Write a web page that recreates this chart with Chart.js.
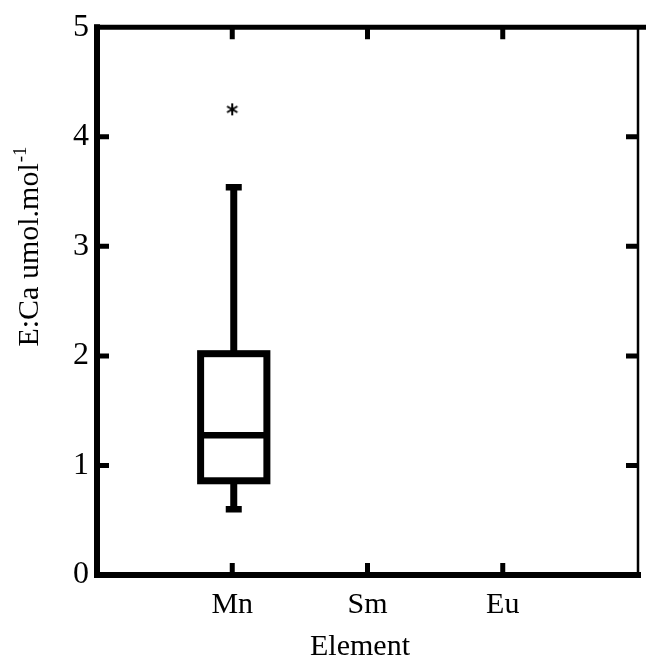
<!DOCTYPE html>
<html>
<head>
<meta charset="utf-8">
<script src="https://cdn.jsdelivr.net/npm/chart.js@4.4.1/dist/chart.umd.min.js"></script>
<style>
  html, body { margin: 0; padding: 0; background: #fff; }
  #wrap { width: 646px; height: 664px; position: relative; }
</style>
</head>
<body>
<div id="wrap"><canvas id="box-chart"></canvas></div>
<script>
//Box plot data, one entry per element
const elements = ["Mn", "Sm", "Eu"];
const positions = [1, 2, 3];
const whiskerLow = [0.6, null, null];
const q1 = [0.86, null, null];
const median = [1.275, null, null];
const q3 = [2.02, null, null];
const whiskerHigh = [3.54, null, null];
const outliers = [[4.25], [], []];
const yTicks = [0, 1, 2, 3, 4, 5];

const serif = "'Liberation Serif', 'Times New Roman', serif";
const ink = '#000';

//Six-armed asterisk used for outliers
const makeAsterisk = (size) => {
  const c = document.createElement('canvas');
  c.width = size;
  c.height = size;
  const g = c.getContext('2d');
  const r = size / 2 - 1;
  g.strokeStyle = ink;
  g.lineWidth = 2;
  g.translate(size / 2, size / 2);
  [90, 30, 150].forEach(deg => {
    const a = deg * Math.PI / 180;
    g.beginPath();
    g.moveTo(-Math.cos(a) * r, -Math.sin(a) * r);
    g.lineTo(Math.cos(a) * r, Math.sin(a) * r);
    g.stroke();
  });
  return c;
};

const outlierPoints = [];
outliers.forEach((list, i) => {
  list.forEach(v => outlierPoints.push({ x: positions[i], y: v }));
});

//Boxes, whiskers and median lines
const boxPlot = {
  id: 'boxPlot',
  beforeDatasetsDraw(chart) {
    const { ctx, scales: { x, y } } = chart;
    const halfBox = (x.getPixelForValue(1) - x.getPixelForValue(0)) * 0.245;
    const halfCap = 8;
    ctx.save();
    ctx.strokeStyle = ink;
    ctx.lineWidth = 7;
    ctx.lineCap = 'butt';
    positions.forEach((p, i) => {
      if (q1[i] === null) return;
      const cx = x.getPixelForValue(p) + 1.5;
      const yLo = y.getPixelForValue(whiskerLow[i]);
      const yQ1 = y.getPixelForValue(q1[i]);
      const yMed = y.getPixelForValue(median[i]);
      const yQ3 = y.getPixelForValue(q3[i]);
      const yHi = y.getPixelForValue(whiskerHigh[i]);

      ctx.beginPath();
      ctx.moveTo(cx, yQ3);
      ctx.lineTo(cx, yHi);
      ctx.moveTo(cx, yQ1);
      ctx.lineTo(cx, yLo);
      ctx.stroke();

      ctx.lineWidth = 6.5;
      ctx.beginPath();
      ctx.moveTo(cx - halfCap, yHi);
      ctx.lineTo(cx + halfCap, yHi);
      ctx.moveTo(cx - halfCap, yLo);
      ctx.lineTo(cx + halfCap, yLo);
      ctx.stroke();

      ctx.lineWidth = 7;
      ctx.lineJoin = 'miter';
      ctx.fillStyle = '#fff';
      ctx.fillRect(cx - halfBox, yQ3, halfBox * 2, yQ1 - yQ3);
      ctx.strokeRect(cx - halfBox, yQ3, halfBox * 2, yQ1 - yQ3);

      ctx.lineWidth = 6.5;
      ctx.beginPath();
      ctx.moveTo(cx - halfBox, yMed);
      ctx.lineTo(cx + halfBox, yMed);
      ctx.stroke();
    });
    ctx.restore();
  }
};

//Heavy frame with inward ticks, plus axis titles
const frame = {
  id: 'frame',
  afterDraw(chart) {
    const { ctx, chartArea: { left, right, top, bottom }, scales: { x, y } } = chart;
    const tick = 12;
    ctx.save();
    ctx.strokeStyle = ink;
    ctx.lineCap = 'square';

    ctx.lineWidth = 6;
    ctx.beginPath();
    ctx.moveTo(left, top);
    ctx.lineTo(left, bottom);
    ctx.lineTo(right, bottom);
    ctx.stroke();

    ctx.lineWidth = 5;
    ctx.beginPath();
    ctx.moveTo(left, top);
    ctx.lineTo(chart.width, top);
    ctx.stroke();

    ctx.lineWidth = 2.5;
    ctx.lineCap = 'butt';
    ctx.beginPath();
    ctx.moveTo(right, top);
    ctx.lineTo(right, bottom + 3);
    ctx.stroke();

    ctx.lineWidth = 5;
    ctx.beginPath();
    y.ticks.forEach(t => {
      if (t.value <= 0 || t.value >= 5) return;
      const py = y.getPixelForValue(t.value);
      ctx.moveTo(left, py);
      ctx.lineTo(left + tick, py);
      ctx.moveTo(right, py);
      ctx.lineTo(right - tick, py);
    });
    x.ticks.forEach(t => {
      const px = x.getPixelForValue(t.value);
      ctx.moveTo(px, bottom);
      ctx.lineTo(px, bottom - tick);
      ctx.moveTo(px, top);
      ctx.lineTo(px, top + tick);
    });
    ctx.stroke();

    ctx.fillStyle = ink;
    ctx.font = '30px ' + serif;
    ctx.textAlign = 'center';
    ctx.textBaseline = 'alphabetic';
    ctx.fillText('Element', 360, 655);

    //Rotated y title with superscript exponent
    const main = 'E:Ca umol.mol';
    const sup = '-1';
    const w1 = ctx.measureText(main).width;
    ctx.font = '19px ' + serif;
    const w2 = ctx.measureText(sup).width;
    ctx.translate(38, 247);
    ctx.rotate(-Math.PI / 2);
    ctx.textAlign = 'left';
    const start = -(w1 + w2) / 2;
    ctx.font = '30px ' + serif;
    ctx.fillText(main, start, 0);
    ctx.font = '19px ' + serif;
    ctx.fillText(sup, start + w1 + 1, -12);
    ctx.restore();
  }
};

const boxCanvas = document.getElementById("box-chart");

let boxChart = new Chart(boxCanvas, {
  type: 'scatter',
  data: {
    datasets: [{
      label: 'Outliers',
      data: outlierPoints,
      pointStyle: makeAsterisk(14),
      pointRadius: 7,
      pointHoverRadius: 7
    }]
  },
  options: {
    responsive: true,
    maintainAspectRatio: false,
    animation: false,
    events: [],
    layout: {
      padding: { top: 24, right: 3, left: 0, bottom: 0 }
    },
    scales: {
      x: {
        type: 'linear',
        min: 0,
        max: 4,
        grid: { display: false, drawTicks: false },
        border: { display: false },
        afterFit: (scale) => { scale.height = 89; },
        afterBuildTicks: (scale) => {
          scale.ticks = positions.map(v => ({ value: v }));
        },
        ticks: {
          color: ink,
          padding: 12,
          font: { family: serif, size: 30 },
          callback: (v) => elements[positions.indexOf(v)]
        }
      },
      y: {
        min: 0,
        max: 5,
        grid: { display: false, drawTicks: false },
        border: { display: false },
        afterFit: (scale) => { scale.width = 97; },
        afterBuildTicks: (scale) => {
          scale.ticks = yTicks.map(v => ({ value: v }));
        },
        ticks: {
          color: ink,
          padding: 8,
          font: { family: serif, size: 32 }
        }
      }
    },
    plugins: {
      legend: { display: false },
      tooltip: { enabled: false }
    }
  },
  plugins: [boxPlot, frame]
});
</script>
</body>
</html>
